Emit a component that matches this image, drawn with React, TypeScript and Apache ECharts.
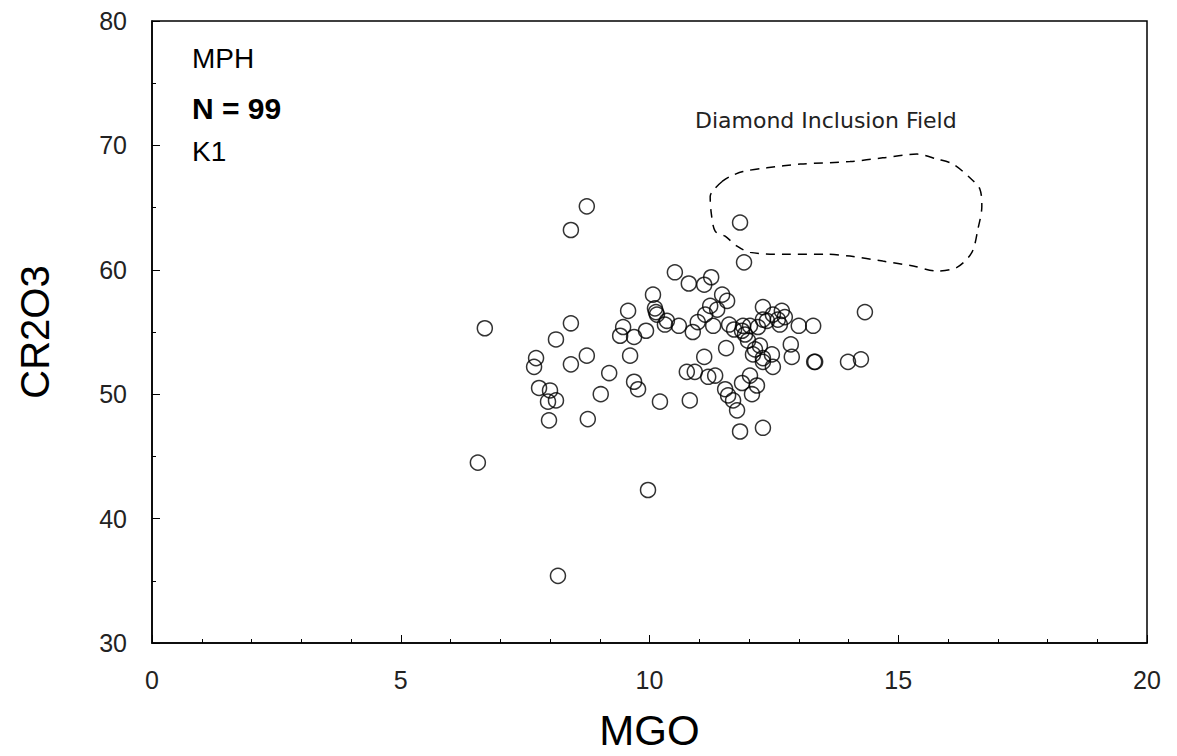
import React, { useEffect, useRef } from "react";
import * as echarts from "echarts";

// MgO (wt%) values
const mgo = [
  6.69, 8.42, 8.12, 7.72, 7.68, 8.42, 8.74, 7.78, 8.0, 7.96, 8.12, 7.98, 8.76, 9.02, 9.19, 9.61, 9.69, 9.77, 9.41, 9.47, 9.69, 9.57, 9.93,
  6.55, 8.42, 8.74, 8.16, 9.97, 11.82, 11.9,
  10.51, 10.79, 11.24, 11.1, 10.07, 10.11, 10.15, 10.35, 10.31, 10.59, 10.87, 10.97, 11.12, 11.22, 11.46, 11.56, 11.36, 11.28, 11.6, 11.88,
  12.02, 11.86, 12.28, 12.18, 12.28, 12.48, 12.66, 12.72, 12.62, 13.0, 13.29, 14.33, 11.54, 11.1, 11.98, 12.12, 12.22, 12.08, 12.28, 12.46,
  12.28, 12.48, 12.84, 12.86, 13.31, 13.33, 13.99, 14.25, 10.75, 10.91, 11.18, 11.32, 11.86, 12.02, 12.16, 12.06, 11.52, 11.58, 11.68, 11.76,
  10.21, 10.81, 11.82, 12.28,
  10.13, 12.36, 11.92, 11.7, 12.58,
];
// Cr2O3 (wt%) values
const cr2o3 = [
  55.3, 55.7, 54.4, 52.9, 52.2, 52.4, 53.1, 50.5, 50.3, 49.4, 49.5, 47.9, 48.0, 50.0, 51.7, 53.1, 51.0, 50.4, 54.7, 55.4, 54.6, 56.7, 55.1,
  44.5, 63.2, 65.1, 35.4, 42.3, 63.8, 60.6,
  59.8, 58.9, 59.4, 58.8, 58.0, 56.9, 56.4, 55.9, 55.6, 55.5, 55.0, 55.8, 56.4, 57.1, 58.0, 57.5, 56.8, 55.5, 55.6, 55.5,
  55.5, 55.1, 57.0, 55.4, 56.0, 56.4, 56.7, 56.2, 55.6, 55.5, 55.5, 56.6, 53.7, 53.0, 54.3, 53.6, 53.9, 53.2, 52.9, 53.2,
  52.6, 52.2, 54.0, 53.0, 52.6, 52.6, 52.6, 52.8, 51.8, 51.8, 51.4, 51.5, 50.9, 51.5, 50.7, 50.0, 50.4, 49.9, 49.5, 48.7,
  49.4, 49.5, 47.0, 47.3,
  56.6, 55.9, 54.8, 55.2, 56.0,
];

// Diamond inclusion field outline
const fieldX = [11.46, 11.22, 11.24, 11.32, 11.52, 11.76, 12.02, 12.68, 13.57, 14.03, 14.69, 15.3, 15.78, 16.18, 16.48, 16.6, 16.68, 16.64, 16.44, 16.1, 15.78, 15.38, 14.69, 14.03, 13.03, 12.36, 11.88, 11.62, 11.46];
const fieldY = [67.1, 65.9, 64.6, 63.1, 62.7, 61.9, 61.4, 61.25, 61.25, 61.1, 60.7, 60.3, 59.9, 60.2, 61.4, 63.25, 65.1, 66.5, 67.4, 68.5, 68.9, 69.3, 69.0, 68.7, 68.5, 68.2, 67.9, 67.5, 67.1];

const xTicks = [0, 20, 5];
const yTicks = [30, 80, 10];

const FONT = "Liberation Sans, Arial, sans-serif";

export default function App() {
  const ref = useRef<HTMLDivElement>(null);
  useEffect(() => {
    document.body.style.margin = "0";
    if (!ref.current) return;
    const chart = echarts.init(ref.current, undefined, { renderer: "svg" });
    const points = mgo.map((x, i) => [x, cr2o3[i]]);
    const field = fieldX.map((x, i) => [x, fieldY[i]]);
    chart.setOption({
      animation: false,
      backgroundColor: "#fff",
      grid: {
        left: 152,
        right: 30,
        top: 21,
        bottom: 111,
        show: true,
        borderColor: "#000",
        borderWidth: 1.5,
        backgroundColor: "transparent",
      },
      xAxis: {
        type: "value",
        min: xTicks[0],
        max: xTicks[1],
        interval: xTicks[2],
        name: "MGO",
        nameLocation: "middle",
        nameGap: 66,
        nameTextStyle: { fontFamily: FONT, fontSize: 42, color: "#000" },
        axisLine: { show: true, lineStyle: { color: "#000", width: 1.5 } },
        axisTick: { show: true, inside: true, length: 8, lineStyle: { color: "#000" } },
        minorTick: { show: true, splitNumber: 5, length: 4, lineStyle: { color: "#000" } },
        splitLine: { show: false },
        axisLabel: { fontFamily: FONT, fontSize: 25, color: "#222", margin: 24 },
      },
      yAxis: {
        type: "value",
        min: yTicks[0],
        max: yTicks[1],
        interval: yTicks[2],
        name: "CR2O3",
        nameLocation: "middle",
        nameGap: 97,
        nameTextStyle: { fontFamily: FONT, fontSize: 40, color: "#000" },
        axisLine: { show: true, lineStyle: { color: "#000", width: 1.5 } },
        axisTick: { show: true, inside: true, length: 8, lineStyle: { color: "#000" } },
        minorTick: { show: true, splitNumber: 2, length: 4, lineStyle: { color: "#000" } },
        splitLine: { show: false },
        axisLabel: { fontFamily: FONT, fontSize: 25, color: "#222", margin: 25 },
      },
      series: [
        {
          type: "scatter",
          data: points,
          symbol: "circle",
          symbolSize: 15,
          itemStyle: { color: "rgba(0,0,0,0)", borderColor: "#000", borderWidth: 1.5 },
        },
        {
          type: "line",
          data: field,
          symbol: "none",
          smooth: 0.3,
          lineStyle: { color: "#000", width: 1.5, type: [9, 7] },
        },
      ],
      graphic: [
        { type: "text", x: 192, y: 58, style: { text: "MPH", font: `28px ${FONT}`, fill: "#000", verticalAlign: "middle" } },
        { type: "text", x: 192, y: 108, style: { text: "N = 99", font: `bold 30px ${FONT}`, fill: "#000", verticalAlign: "middle" } },
        { type: "text", x: 192, y: 151, style: { text: "K1", font: `28px ${FONT}`, fill: "#000", verticalAlign: "middle" } },
        { type: "text", x: 695, y: 120, style: { text: "Diamond Inclusion Field", font: `22px DejaVu Sans, sans-serif`, fill: "#222", verticalAlign: "middle" } },
      ],
    });
    return () => chart.dispose();
  }, []);
  return <div ref={ref} style={{ width: 1177, height: 756 }} />;
}
